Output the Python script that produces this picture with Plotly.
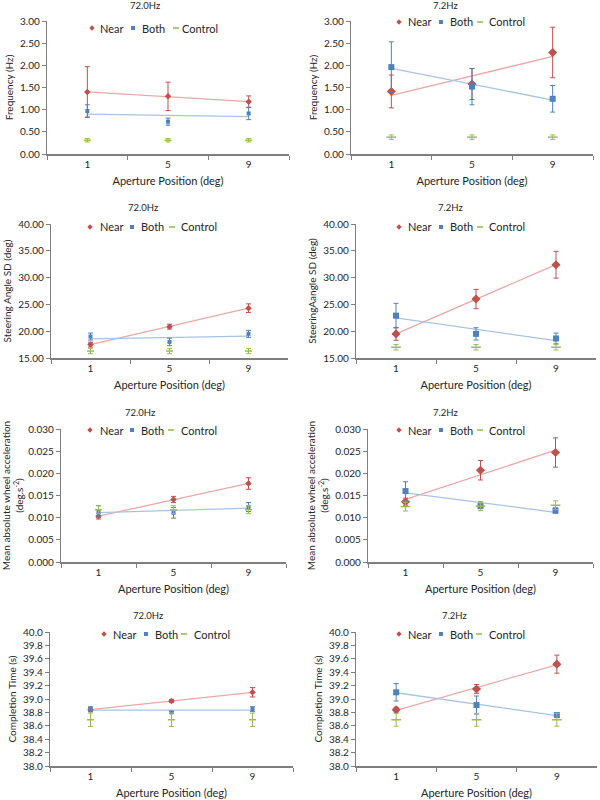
import numpy as np
import plotly.graph_objects as go

# ---------------- data ----------------
positions = ["1", "5", "9"]
series_names = ["Near", "Both", "Control"]

freq72_near = [1.40, 1.30, 1.18]
freq72_near_err = [0.57, 0.32, 0.13]
freq72_both = [0.97, 0.73, 0.915]
freq72_both_err = [0.14, 0.08, 0.14]
freq72_ctrl = [0.31, 0.31, 0.31]
freq72_ctrl_err = [0.04, 0.04, 0.04]

freq7_near = [1.41, 1.58, 2.29]
freq7_near_err = [0.37, 0.35, 0.57]
freq7_both = [1.96, 1.52, 1.245]
freq7_both_err = [0.57, 0.41, 0.30]
freq7_ctrl = [0.38, 0.38, 0.38]
freq7_ctrl_err = [0.05, 0.05, 0.05]

steer72_near = [17.5, 20.85, 24.3]
steer72_near_err = [0.45, 0.45, 0.8]
steer72_both = [19.0, 18.0, 19.5]
steer72_both_err = [0.65, 0.7, 0.65]
steer72_ctrl = [16.3, 16.3, 16.3]
steer72_ctrl_err = [0.5, 0.5, 0.5]

steer7_near = [19.5, 26.0, 32.4]
steer7_near_err = [1.2, 1.8, 2.5]
steer7_both = [22.9, 19.5, 18.65]
steer7_both_err = [2.3, 1.15, 1.0]
steer7_ctrl = [17.0, 17.0, 17.0]
steer7_ctrl_err = [0.5, 0.5, 0.5]

accel72_near = [0.0103, 0.0141, 0.0177]
accel72_near_err = [0.0006, 0.0007, 0.0013]
accel72_both = [0.0114, 0.0111, 0.0124]
accel72_both_err = [0.0013, 0.0012, 0.0010]
accel72_ctrl = [0.0118, 0.0118, 0.0118]
accel72_ctrl_err = [0.0009, 0.0009, 0.0009]

accel7_near = [0.0136, 0.0207, 0.0247]
accel7_near_err = [0.0008, 0.0022, 0.0033]
accel7_both = [0.0160, 0.0126, 0.0116]
accel7_both_err = [0.0021, 0.0010, 0.0006]
accel7_ctrl = [0.0125, 0.0126, 0.0128]
accel7_ctrl_err = [0.0010, 0.0010, 0.0010]

time72_near = [38.84, 38.97, 39.10]
time72_near_err = [0.03, 0.02, 0.07]
time72_both = [38.85, 38.80, 38.85]
time72_both_err = [0.035, 0.015, 0.035]
time72_ctrl = [38.69, 38.69, 38.69]
time72_ctrl_err = [0.10, 0.10, 0.10]

time7_near = [38.84, 39.15, 39.52]
time7_near_err = [0.035, 0.065, 0.135]
time7_both = [39.10, 38.91, 38.76]
time7_both_err = [0.13, 0.135, 0.02]
time7_ctrl = [38.69, 38.69, 38.69]
time7_ctrl_err = [0.095, 0.095, 0.095]

panel_titles = ["72.0Hz", "7.2Hz", "72.0Hz", "7.2Hz", "72.0Hz", "7.2Hz", "72.0Hz", "7.2Hz"]
y_titles = ["Frequency (Hz)", "Frequency (Hz)",
            "Steering Angle SD (deg)", "SteeringAangle SD (deg)",
            "Mean absolute wheel acceleration<br>(deg.s<sup>-2</sup>)",
            "Mean absolute wheel acceleration<br>(deg.s<sup>-2</sup>)",
            "Completion Time (s)", "Completion Time (s)"]
x_title = "Aperture Position (deg)"

panels = [
    (freq72_near, freq72_near_err, freq72_both, freq72_both_err, freq72_ctrl, freq72_ctrl_err),
    (freq7_near, freq7_near_err, freq7_both, freq7_both_err, freq7_ctrl, freq7_ctrl_err),
    (steer72_near, steer72_near_err, steer72_both, steer72_both_err, steer72_ctrl, steer72_ctrl_err),
    (steer7_near, steer7_near_err, steer7_both, steer7_both_err, steer7_ctrl, steer7_ctrl_err),
    (accel72_near, accel72_near_err, accel72_both, accel72_both_err, accel72_ctrl, accel72_ctrl_err),
    (accel7_near, accel7_near_err, accel7_both, accel7_both_err, accel7_ctrl, accel7_ctrl_err),
    (time72_near, time72_near_err, time72_both, time72_both_err, time72_ctrl, time72_ctrl_err),
    (time7_near, time7_near_err, time7_both, time7_both_err, time7_ctrl, time7_ctrl_err),
]

# ---------------- style / layout ----------------
W, H = 600, 800
# plot-area pixel boxes: (left, right, top, bottom)
boxes = [
    (47, 289, 21, 154), (351, 593, 21, 154),
    (51, 288, 224, 358), (356, 596, 224, 358),
    (61, 286, 429, 562), (368, 593, 429, 562),
    (50, 293, 632, 766), (356, 597, 632, 766),
]
y_ranges = [(0, 3), (0, 3), (15, 40), (15, 40), (0, 0.03), (0, 0.03), (38, 40), (38, 40)]
y_dticks = [0.5, 0.5, 5, 5, 0.005, 0.005, 0.2, 0.2]
y_formats = [".2f", ".2f", ".2f", ".2f", ".3f", ".3f", ".1f", ".1f"]
title_pos = [(145, 6), (445, 6), (143, 207), (450, 207), (140, 412), (445, 412), (148, 615), (454, 615)]
# legend: y, then (marker x, text x) for Near, Both, Control
legend_rows = [
    (28, [(92, 98), (133, 140), (176, 180)]),
    (22, [(399, 406), (441, 448), (480, 487)]),
    (227, [(90, 98), (132, 139), (172, 179)]),
    (227, [(399, 406), (441, 448), (480, 487)]),
    (430, [(90, 98), (132, 139), (171, 179)]),
    (430, [(399, 406), (441, 448), (480, 487)]),
    (634, [(104, 111), (146, 153), (184, 192)]),
    (634, [(399, 406), (441, 448), (479, 487)]),
]

RED, BLUE, GREEN = "#C0504D", "#4F81BD", "#9BBB59"
RED_T, BLUE_T = "#E9A9A7", "#A9C3E3"
AXC = "#7F7F7F"
TXT = "#262626"
FONT = "Lato"

fig = go.Figure()
layout = dict(
    width=W, height=H, margin=dict(l=0, r=0, t=0, b=0, autoexpand=False),
    paper_bgcolor="white", plot_bgcolor="white",
    font=dict(family=FONT, size=10, color=TXT),
    showlegend=False, annotations=[], shapes=[],
)

xcat = list(range(len(positions)))
for i, (near, near_e, both, both_e, ctrl, ctrl_e) in enumerate(panels):
    n = i + 1
    xa = "x" if n == 1 else f"x{n}"
    ya = "y" if n == 1 else f"y{n}"
    msize = 4 if i % 2 == 0 else 6

    # linear trendlines (least squares on category index)
    for vals, col in ((near, RED_T), (both, BLUE_T)):
        k, b = np.polyfit(xcat, vals, 1)
        fig.add_trace(go.Scatter(
            x=positions, y=[k * xi + b for xi in xcat], mode="lines",
            line=dict(color=col, width=1.3), xaxis=xa, yaxis=ya,
            showlegend=False, hoverinfo="skip"))

    for name, vals, errs, col, sym in (
        ("Near", near, near_e, RED, "diamond"),
        ("Both", both, both_e, BLUE, "square"),
        ("Control", ctrl, ctrl_e, GREEN, "line-ew"),
    ):
        if sym == "line-ew":
            marker = dict(symbol=sym, size=msize + 1, color=col, line=dict(color=col, width=1.5))
        else:
            marker = dict(symbol=sym, size=msize + (1 if sym == "diamond" else 0), color=col)
        fig.add_trace(go.Scatter(
            x=positions, y=vals, mode="markers", name=name, marker=marker,
            error_y=dict(type="data", array=errs, visible=True, color=col, thickness=1, width=2.5),
            xaxis=xa, yaxis=ya))

    l, r, t, btm = boxes[i]
    xkey = "xaxis" if n == 1 else f"xaxis{n}"
    ykey = "yaxis" if n == 1 else f"yaxis{n}"
    layout[xkey] = dict(
        domain=[l / W, r / W], anchor=ya, type="category",
        categoryorder="array", categoryarray=positions,
        range=[-0.5, 2.5], tickson="boundaries", ticks="outside", ticklen=4,
        tickcolor=AXC, showline=True, linecolor=AXC, linewidth=1.6,
        showgrid=False, zeroline=False, tickfont=dict(size=10, color=TXT),
        title=dict(text=x_title, font=dict(size=11, color=TXT), standoff=9),
        automargin=False, fixedrange=True,
    )
    y0, y1 = y_ranges[i]
    layout[ykey] = dict(
        domain=[1 - btm / H, 1 - t / H], anchor=xa,
        range=[y0, y1], dtick=y_dticks[i], tick0=y0, tickformat=y_formats[i],
        ticks="outside", ticklen=4, tickcolor=AXC, showline=True, linecolor=AXC,
        linewidth=1.4, showgrid=False, zeroline=False,
        tickfont=dict(size=10, color=TXT),
        title=dict(text=y_titles[i], font=dict(size=10, color=TXT), standoff=4),
        automargin=False, fixedrange=True,
    )

    # panel title
    tx, ty = title_pos[i]
    layout["annotations"].append(dict(
        text=panel_titles[i], x=tx / W, y=1 - ty / H, xref="paper", yref="paper",
        xanchor="center", yanchor="middle", showarrow=False,
        font=dict(size=9.5, color=TXT)))

    # compact in-plot legend (Excel style): symbol shapes + text labels
    ly, items = legend_rows[i]
    s = 2.7
    for (mx, txx), name, col in zip(items, series_names, (RED, BLUE, GREEN)):
        common = dict(xref="paper", yref="paper", xsizemode="pixel", ysizemode="pixel",
                      xanchor=mx / W, yanchor=1 - ly / H, line=dict(width=0))
        if name == "Near":
            layout["shapes"].append(dict(type="path", fillcolor=col,
                                         path=f"M0,{s} L{s},0 L0,{-s} L{-s},0 Z", **common))
        elif name == "Both":
            layout["shapes"].append(dict(type="rect", fillcolor=col,
                                         x0=-2, x1=2, y0=-2, y1=2, **common))
        else:
            layout["shapes"].append(dict(type="rect", fillcolor=col,
                                         x0=-3, x1=3, y0=-0.8, y1=0.8, **common))
        layout["annotations"].append(dict(
            text=name, x=txx / W, y=1 - ly / H, xref="paper", yref="paper",
            xanchor="left", yanchor="middle", showarrow=False,
            font=dict(size=11, color=TXT)))

fig.update_layout(**layout)
fig.write_html(
    "out.html",
    config={"displayModeBar": False},
    post_script="document.body.style.margin='0px';document.body.style.padding='0px';",
)
